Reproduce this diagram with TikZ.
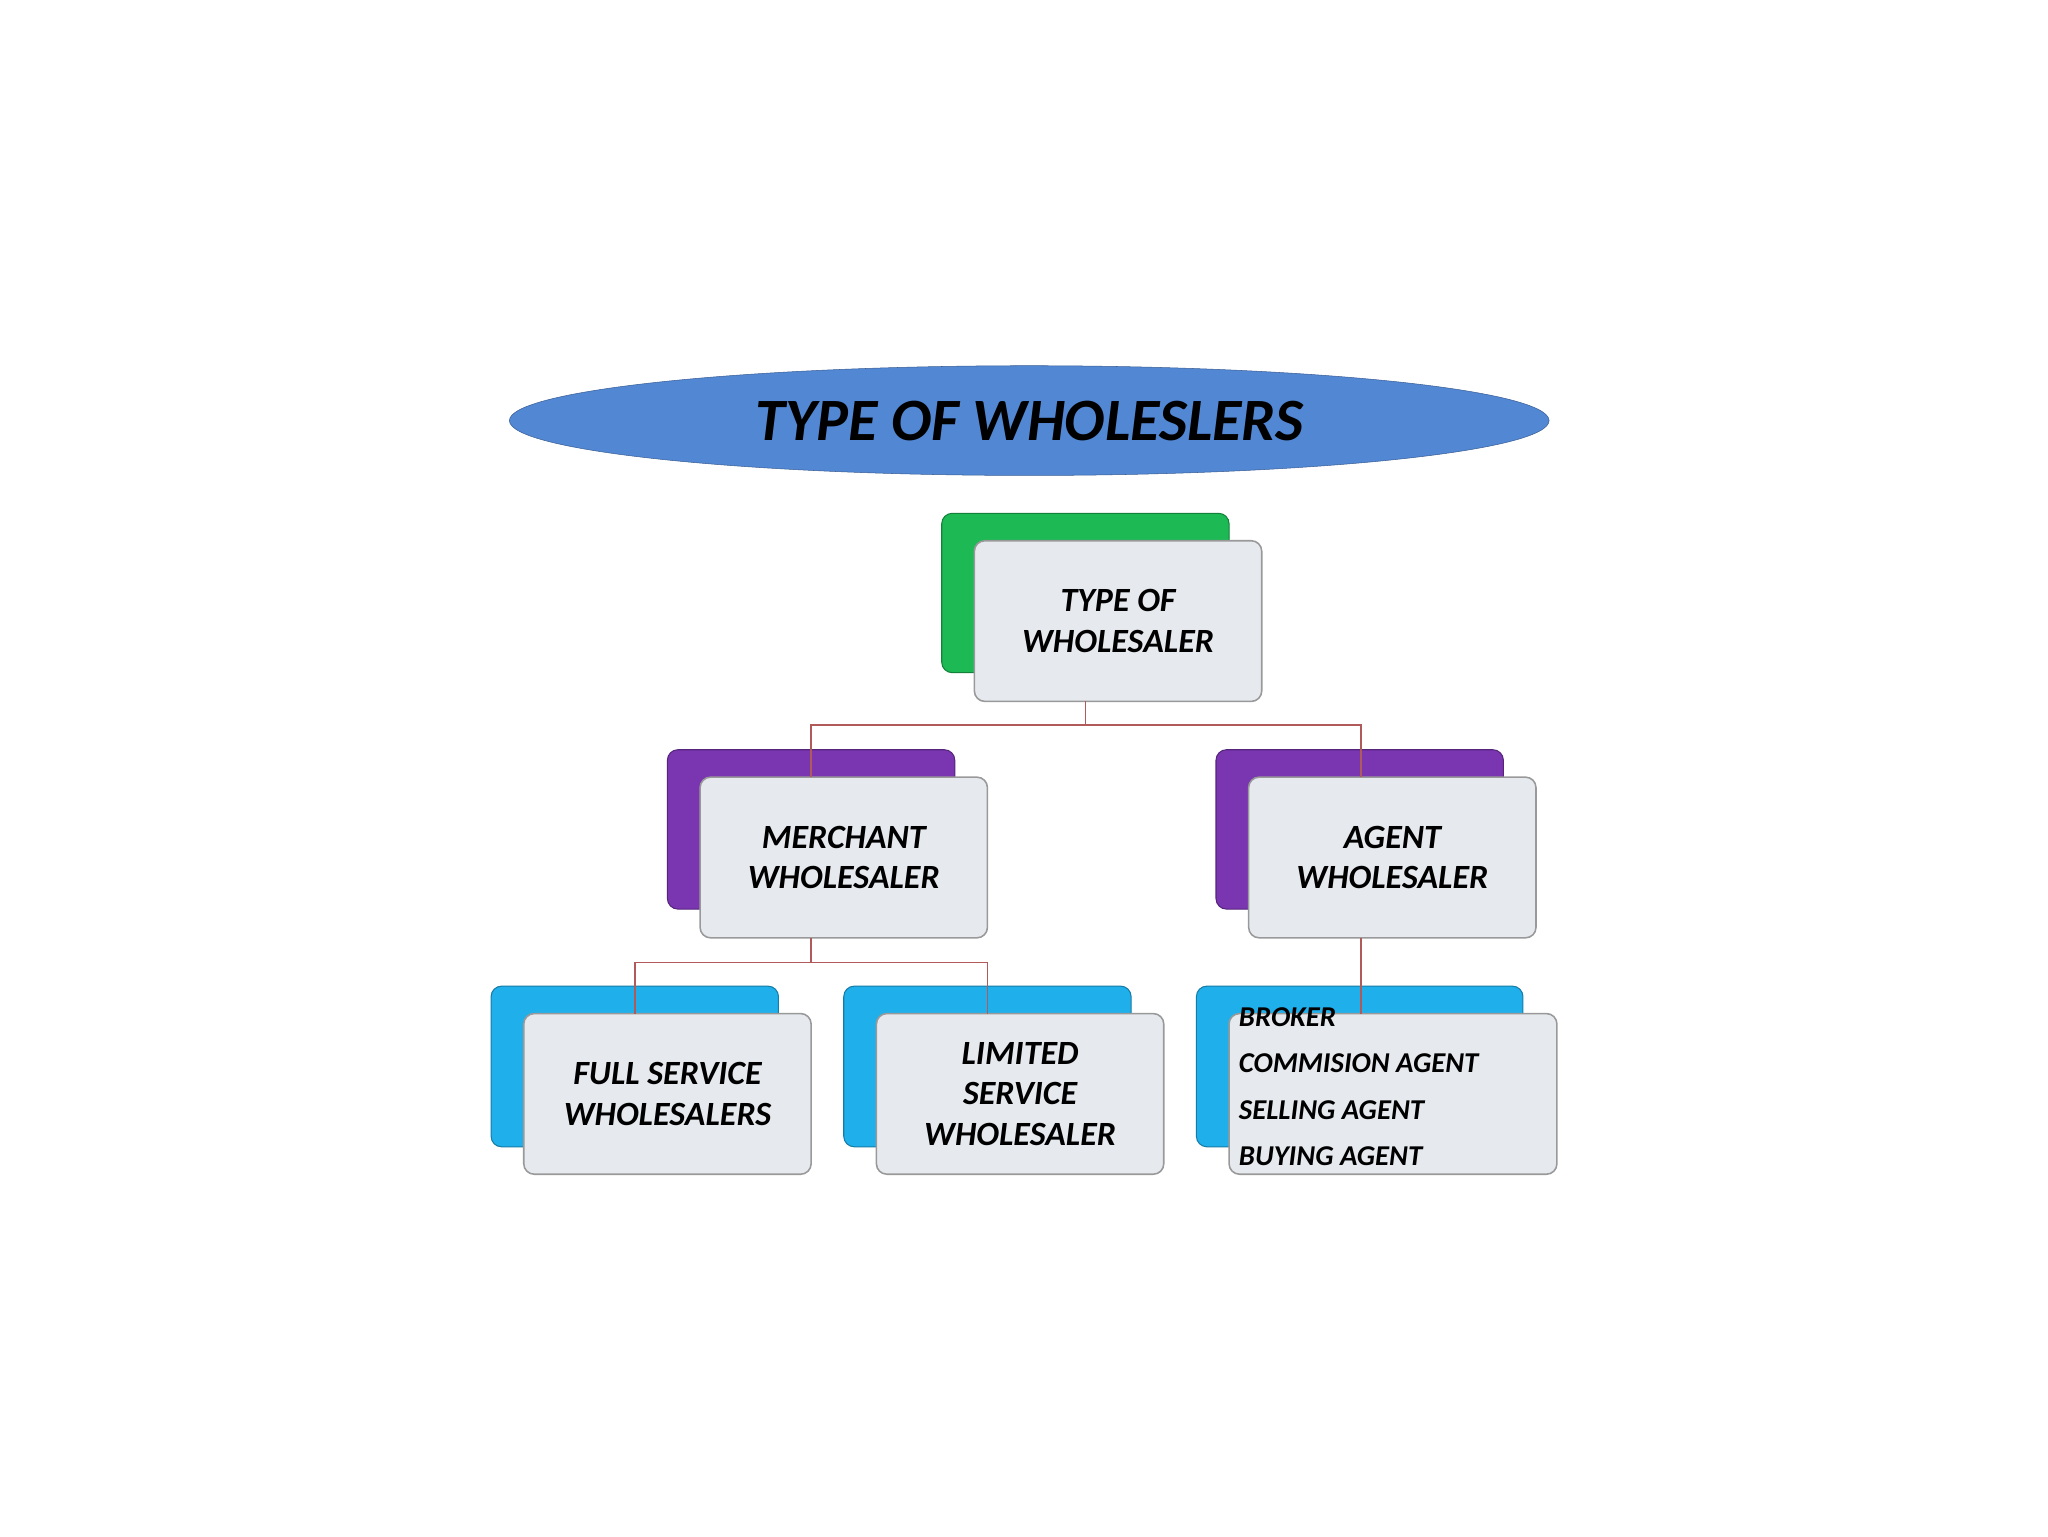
\documentclass[tikz,border=0pt]{standalone}
\usepackage{fontspec}
\setmainfont{Carlito}
\usetikzlibrary{shapes.geometric}
\definecolor{ellblue}{HTML}{5287D4}
\definecolor{gback}{HTML}{1DB954}
\definecolor{pback}{HTML}{7A35B0}
\definecolor{cback}{HTML}{1FB0EC}
\definecolor{frontc}{HTML}{E6EAEF}
\definecolor{linec}{HTML}{B05A5A}
\tikzset{
 backbox/.style={rounded corners=8pt,draw=#1!70!black,fill=#1,line width=0.8pt},
 frontbox/.style={rounded corners=8pt,draw=gray!80,fill=frontc,line width=1.2pt,align=center,font=\bfseries\itshape\fontsize{26}{31}\selectfont},
 conn/.style={draw=linec,line width=1.2pt}
}
\begin{document}
\begin{tikzpicture}[x=1pt,y=-1pt]
\useasboundingbox (0,0) rectangle (1568,1176);
\node[ellipse,draw=ellblue!70!black,fill=ellblue,minimum width=796pt,minimum height=84pt,font=\bfseries\itshape\fontsize{46}{50}\selectfont] (title) at (788,322) {TYPE OF WHOLESLERS};
% back boxes
\draw[backbox=gback] (721,393) rectangle (941,515);
\draw[backbox=pback] (511,574) rectangle (731,696);
\draw[backbox=pback] (931,574) rectangle (1151,696);
\draw[backbox=cback] (376,755) rectangle (596,878);
\draw[backbox=cback] (646,755) rectangle (866,878);
\draw[backbox=cback] (916,755) rectangle (1166,878);
% front boxes
\node[frontbox,minimum width=220pt,minimum height=123pt] (top) at (856,475.5) {TYPE OF\\WHOLESALER};
\node[frontbox,minimum width=220pt,minimum height=123pt] (mer) at (646,656.5) {MERCHANT\\WHOLESALER};
\node[frontbox,minimum width=220pt,minimum height=123pt] (agt) at (1066,656.5) {AGENT\\WHOLESALER};
\node[frontbox,minimum width=220pt,minimum height=123pt] (full) at (511,837.5) {FULL SERVICE\\WHOLESALERS};
\node[frontbox,minimum width=220pt,minimum height=123pt] (lim) at (781,837.5) {LIMITED\\SERVICE\\WHOLESALER};
\node[frontbox,minimum width=251pt,minimum height=123pt] (list) at (1066.5,837.5) {};
\node[font=\bfseries\itshape\fontsize{22}{35.5}\selectfont,align=left,anchor=north west] (listtxt) at (945,768) {BROKER\\COMMISION AGENT\\SELLING AGENT\\BUYING AGENT};
% connectors
\coordinate (j1) at (831,555);
\draw[conn] (831,537) -- (j1);
\draw[conn] (621,595) |- (j1) -| (1042,595);
\draw[conn] (621,718) -- (621,737);
\draw[conn] (486,776) |- (621,737) -| (756,776);
\draw[conn] (1042,718) -- (1042,776);
\end{tikzpicture}
\end{document}
